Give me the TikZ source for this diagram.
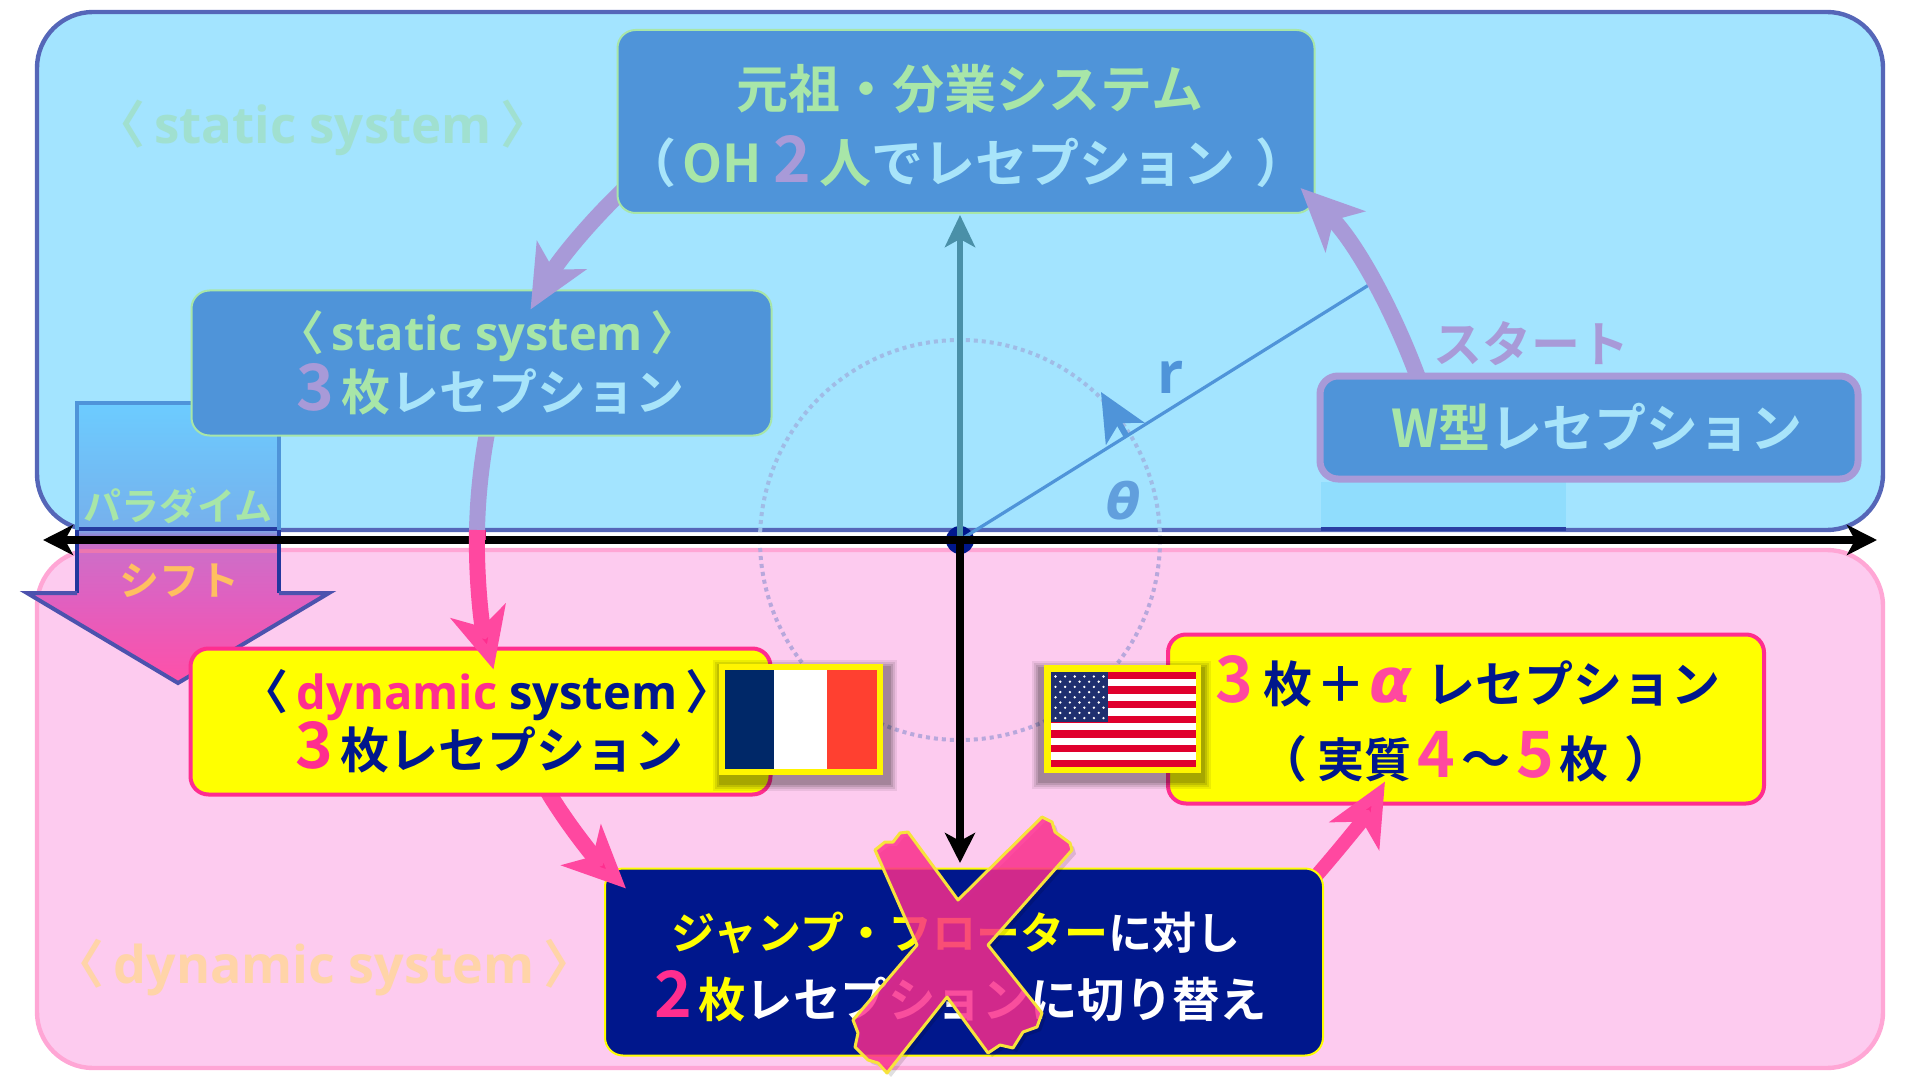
\documentclass[tikz,border=0pt]{standalone}
\usepackage{fontspec}
\usetikzlibrary{arrows.meta,calc,shadows,backgrounds}
\setmainfont{Noto Sans CJK JP}[UprightFont=* Bold,BoldFont=* Bold]
\newfontfamily\cjf{Noto Sans CJK JP}[UprightFont=* Bold]
\newfontfamily\latf{Open Sans}[UprightFont=* Bold]
\newfontfamily\grk{DejaVu Sans}[UprightFont=* Bold Oblique]
\definecolor{panB}{HTML}{A3E4FF}\definecolor{panBs}{HTML}{5566B8}
\definecolor{panP}{HTML}{FDCBEF}\definecolor{panPs}{HTML}{FFA6D5}
\definecolor{boxB}{HTML}{4F94D9}\definecolor{gr}{HTML}{A8E6A8}
\definecolor{lb}{HTML}{A8E4FA}\definecolor{pu}{HTML}{A89AD8}
\definecolor{hot}{HTML}{FF2E8F}\definecolor{hotl}{HTML}{FF48A0}
\definecolor{navy}{HTML}{00178C}\definecolor{yel}{HTML}{FFFF00}
\definecolor{ghostB}{HTML}{A0E0D0}\definecolor{ghostP}{HTML}{FFD4A8}
\definecolor{ora}{HTML}{FFBF60}\definecolor{teal1}{HTML}{4A90A8}
\definecolor{paraA}{HTML}{6CCCFF}\definecolor{paraB}{HTML}{76B0EC}
\definecolor{paraC}{HTML}{A070C8}\definecolor{paraD}{HTML}{CC6FC8}
\definecolor{paraE}{HTML}{E060C0}\definecolor{paraF}{HTML}{FF50A8}
\definecolor{ringB}{HTML}{A0BCE6}\definecolor{ringP}{HTML}{B8A8DC}
\definecolor{faintB}{HTML}{90DDFD}\definecolor{xyel}{HTML}{F7E33B}
\definecolor{frB}{HTML}{002868}\definecolor{frR}{HTML}{FF4030}
\definecolor{usR}{HTML}{E0002D}\definecolor{usB}{HTML}{1F2F6F}
\pgfdeclareverticalshading{parashade}{100bp}{color(0bp)=(paraF);color(25bp)=(paraF);color(40bp)=(paraE);color(49.5bp)=(paraD);color(51bp)=(paraC);color(52.5bp)=(paraB);color(75bp)=(paraA);color(100bp)=(paraA)}
\pgfdeclarelayer{l0}\pgfdeclarelayer{l1}\pgfdeclarelayer{l2}\pgfdeclarelayer{l3}
\pgfdeclarelayer{l4}\pgfdeclarelayer{l5}\pgfdeclarelayer{l6}\pgfdeclarelayer{l7}
\pgfdeclarelayer{l8}\pgfdeclarelayer{l9}\pgfdeclarelayer{l10}\pgfdeclarelayer{l11}
\pgfsetlayers{main,l0,l1,l2,l3,l4,l5,l6,l7,l8,l9,l10,l11}
\tikzset{
 panel/.style={rounded corners=28pt,line width=2.2pt},
 nbox/.style={rounded corners=9pt,inner sep=0pt,outer sep=0pt,align=center,draw=gr,fill=boxB,line width=1pt},
 ybox/.style={rounded corners=9pt,inner sep=0pt,outer sep=0pt,align=center,draw=hot,fill=yel,line width=2pt},
 dbox/.style={rounded corners=9pt,inner sep=0pt,outer sep=0pt,align=center,draw=yel,fill=navy,line width=1pt},
 bigarrow/.style={line width=8pt,-{Stealth[length=31pt,width=28pt,inset=8pt]}},
 axisline/.style={line width=4pt,black},
 axhead/.style={-{Stealth[length=15pt,width=15pt,inset=4pt]}},
 lbl/.style={inner sep=0pt},
 ringdots/.style={line width=2pt,dash pattern=on 2pt off 2pt},
}
\newcommand{\bg}[1]{{\fontsize{32}{30}\selectfont #1}}
\newcommand{\lang}{{\cjf〈}}
\newcommand{\rang}{{\cjf〉}}
\begin{document}
\begin{tikzpicture}[x=0.5pt,y=-0.5pt]
\useasboundingbox (0,0) rectangle (1920,1080);
\fill[white] (0,0) rectangle (1920,1080);
% panels
\draw[panel,fill=panP,draw=panPs] (37,550) rectangle (1883,1068);
\draw[panel,fill=panB,draw=panBs] (37,12) rectangle (1883,530);
\fill[faintB] (1321,482) rectangle (1566,527);
\draw[line width=2pt,draw=navy!50!panBs] (1321,529) -- (1566,529);
% ghost labels
\node[lbl,text=ghostB,font={\latf\fontsize{25.5}{30}\selectfont}] (ghostS) at (323,128) {\lang\,static system\,\rang};
\node[lbl,text=ghostP,font={\latf\fontsize{26}{30}\selectfont}] (ghostD) at (324,968) {\lang\,dynamic system\,\rang};
% ring
\coordinate (ringC) at (960,540);
\draw[ringdots,draw=ringB] (760,540) arc[start angle=180,end angle=360,radius=200];
\draw[ringdots,draw=ringP] (760,540) arc[start angle=180,end angle=0,radius=200];
% paradigm arrow
\path[shading=parashade] (77,403) -- (279,403) -- (279,593) -- (329,593) -- (178,683) -- (27,593) -- (77,593) -- cycle;
\draw[line width=2pt,draw=boxB] (77,530) -- (77,403) -- (279,403) -- (279,530);
\draw[line width=2pt,draw=navy!60!panBs] (77,530) -- (77,593) (279,530) -- (279,593);
\draw[line width=2pt,draw=navy!55!pu,line join=miter] (77,593) -- (27,593) -- (178,683) -- (329,593) -- (279,593);
\draw[line width=2.2pt,draw=navy!55!panBs] (79,529) -- (277,529);
\draw[line width=2.2pt,draw=hot!40!panPs!85!gray] (79,551) -- (277,551);
\node[lbl,text=gr,font=\fontsize{19}{20}\selectfont] (para) at (178,506) {パラダイム};
\node[lbl,text=ora,font=\fontsize{20}{20}\selectfont] (shift) at (179,581) {シフト};
% axes
\node[circle,fill=navy,minimum size=14pt,inner sep=0pt] (origin) at (960,540) {};
\coordinate (axL) at (43,540); \coordinate (axR) at (1877,540);
\coordinate (axT) at (960,215); \coordinate (axB) at (960,863);
\coordinate (rEnd) at (1372,283); \coordinate (rFoot) at (1127,437); \coordinate (rTip) at (1101,392);
\draw[line width=3pt,draw=teal1,-{Stealth[length=16pt,width=15pt,inset=4pt]}] (origin.center) -- (axT);
\draw[line width=1.6pt,draw=boxB] (origin.center) -- (rEnd);
\draw[line width=3pt,draw=boxB,-{Stealth[length=24pt,width=22pt,inset=6pt]}] (rFoot) -- (rTip);
\draw[axisline,axhead] (origin.center) -- (axB);
\draw[axisline,{Stealth[length=15pt,width=15pt,inset=4pt]}-{Stealth[length=15pt,width=15pt,inset=4pt]}] (axL) -- (axR);
\node[lbl,text=boxB,font={\latf\fontsize{29}{30}\selectfont}] (rlab) at (1171,377) {r};
\node[lbl,text=boxB!90!white,font={\grk\fontsize{25}{26}\selectfont}] (thlab) at (1124,501) {θ};
% boxes and connectors, stacked so each arrow runs from under its source to over its target
\begin{pgfonlayer}{l0}
\node[ybox,minimum width=298pt,minimum height=84.5pt,text=navy,font=\fontsize{24.5}{37.5}\selectfont] (right) at (1466,719)
 {\hspace*{2pt}\textcolor{hotl}{\bg{3}}\hspace{5pt}枚\hspace{2pt}＋\hspace{2pt}{\textcolor{hotl}{\grk\fontsize{31}{30}\selectfont α}}\hspace{7pt}レセプション\\（\hspace{5pt}{\fontsize{23.5}{30}\selectfont 実質}\hspace{3pt}\textcolor{hotl}{\bg{4}}\hspace{3pt}～\hspace{3pt}\textcolor{hotl}{\bg{5}}\hspace{3pt}枚\hspace{8pt}）};
\end{pgfonlayer}
\begin{pgfonlayer}{l2}
\node[dbox,minimum width=359pt,minimum height=93.5pt,text=white,font=\fontsize{22}{34}\selectfont] (dark) at (964,962)
 {\rule{0pt}{23.4pt}\textcolor{yel}{ジャンプ・フローター}に対し\hspace*{8pt}\\[0pt]{\fontsize{23.7}{34}\selectfont\textcolor{hot}{\bg{2}}\hspace{3pt}\textcolor{yel}{枚}レセプションに切り替え}\hspace*{3pt}};
\end{pgfonlayer}
\begin{pgfonlayer}{l1}
\draw[bigarrow,line width=7pt,draw=hotl,arrows={-{Stealth[length=31pt,width=28pt,inset=8pt,fill=hot]}}] ($(dark.north east)+(-10,11)$) .. controls (1339.7,849.1) and (1365.2,816.7) .. ($(right.south west)+(217,-22)$);
\end{pgfonlayer}
\begin{pgfonlayer}{l4}
\node[ybox,minimum width=290pt,minimum height=73pt,text=navy,font=\fontsize{24.5}{29.5}\selectfont] (dyn) at (480.5,721.5)
 {\hspace*{6.5pt}{\latf\fontsize{23.5}{29.5}\selectfont\lang\,\textcolor{hot}{dynamic} system\,\rang}\\\hspace*{9pt}\textcolor{hot}{\bg{3}}\hspace{4pt}枚レセプション};
\end{pgfonlayer}
\begin{pgfonlayer}{l3}
\draw[bigarrow,draw=hotl,arrows={-{Stealth[length=31pt,width=28pt,inset=8pt,fill=hot]}}] ($(dyn.south west)+(356,-5)$) .. controls (570,829) and (598.1,861.4) .. ($(dark.north west)+(21,20)$);
\end{pgfonlayer}
\begin{pgfonlayer}{l6}
\node[nbox,minimum width=290pt,minimum height=72.5pt,text=lb,font=\fontsize{24.5}{30}\selectfont] (stat) at (481.5,363)
 {\hspace*{6pt}\textcolor{gr}{\latf\fontsize{23.5}{30}\selectfont\lang\,static system\,\rang}\\\hspace*{9pt}\textcolor{pu}{\bg{3}}\hspace{4pt}\textcolor{gr}{枚}レセプション};
\end{pgfonlayer}
\begin{pgfonlayer}{l5}
\coordinate (seam) at (477,530);
\draw[line width=8pt,draw=pu] ($(stat.south west)+(296,-5)$) .. controls (481.4,462.6) and (477.7,496.5) .. (seam);
\fill[hot!85!black] (468.5,530) rectangle (485.5,540);
\draw[bigarrow,draw=hotl,arrows={-{Stealth[length=30pt,width=28pt,inset=8pt,fill=hot]}}] (seam) .. controls (476,577) and (481.4,623.6) .. ($(dyn.north west)+(303,21)$);
\end{pgfonlayer}
\begin{pgfonlayer}{l8}
\node[nbox,minimum width=348.5pt,minimum height=91.5pt,text=lb,font=\fontsize{26}{37}\selectfont] (top) at (966,121.5)
 {\rule{0pt}{27pt}\hspace*{4pt}\textcolor{gr}{元祖・分業システム}\\（\hspace{3pt}\textcolor{gr}{OH}\hspace{6pt}\textcolor{pu}{\bg{2}}\hspace{4pt}\textcolor{gr}{人}でレセプション\hspace{10pt}）};
\end{pgfonlayer}
\begin{pgfonlayer}{l7}
\draw[bigarrow,draw=pu] ($(top.south west)+(22,-38)$) .. controls (596.4,213.2) and (559.5,258.9) .. ($(stat.north west)+(339,19)$);
\end{pgfonlayer}
\begin{pgfonlayer}{l10}
\node[rounded corners=9pt,inner sep=0pt,outer sep=0pt,align=center,draw=pu,fill=boxB,line width=3.5pt,minimum width=269pt,minimum height=51.5pt,text=lb,font=\fontsize{26}{30}\selectfont] (wbox) at (1589,427.5)
 {\hspace*{8pt}\textcolor{gr}{W型}レセプション};
\end{pgfonlayer}
\begin{pgfonlayer}{l9}
\draw[bigarrow,draw=pu] ($(wbox.north west)+(100,7)$) .. controls (1392.9,308.3) and (1354.7,240.8) .. ($(top.south east)+(-14,-25)$);
\end{pgfonlayer}
\begin{pgfonlayer}{l11}
\node[lbl,text=pu,font=\fontsize{24.5}{26}\selectfont] (start) at (1531,344) {スタート};
% French flag
\foreach \g/\o in {8/.07,6/.09,4/.11,2/.13}{\fill[black,opacity=\o] (719+2-\g,664+4-\g) rectangle (883+6+\g,775+8+\g);}
\fill[yel!92!orange] (719,664) rectangle (883,775);
\fill[white] (725,670) rectangle (877,769);
\fill[frB] (725,670) rectangle (774,769);
\fill[frR] (827,670) rectangle (877,769);
% US flag
\foreach \g/\o in {8/.07,6/.09,4/.11,2/.13}{\fill[black,opacity=\o] (1044-4-\g,665+4-\g) rectangle (1200.5+2+\g,773+8+\g);}
\fill[yel!92!orange] (1044,665) rectangle (1200.5,773);
\fill[white] (1050.5,671.5) rectangle (1196,767);
\foreach \i in {0,2,...,12}{\fill[usR] (1050.5,671.5+\i*7.35) rectangle (1196,671.5+\i*7.35+7.35);}
\fill[usB] (1050.5,671.5) rectangle (1108,722);
\foreach \r in {0,...,4}{\foreach \c in {0,...,5}{\fill[white] (1055.5+\c*9.6,676.5+\r*10.4) circle[radius=1.3];}}
\foreach \r in {0,...,3}{\foreach \c in {0,...,4}{\fill[white] (1060.3+\c*9.6,681.7+\r*10.4) circle[radius=1.3];}}
% cross
\path[draw=xyel,line width=1.5pt,line join=round,fill=hot,fill opacity=.82,drop shadow={shadow xshift=2pt,shadow yshift=-2pt,opacity=.12,fill=black}]
 (875,850) -- (885,842) -- (893,842) -- (900,833) -- (908,832) -- (958,900) -- (1042,817) -- (1052,822) -- (1055,832) -- (1070,843) -- (1072,850) -- (988,945) -- (1042,1013) -- (1037,1027) -- (1023,1032) -- (1013,1048) -- (1000,1045) -- (988,1053) -- (947,997) -- (887,1073) -- (878,1063) -- (868,1060) -- (855,1047) -- (858,1033) -- (853,1020) -- (917,945) -- cycle;
\end{pgfonlayer}
\end{tikzpicture}
\end{document}
